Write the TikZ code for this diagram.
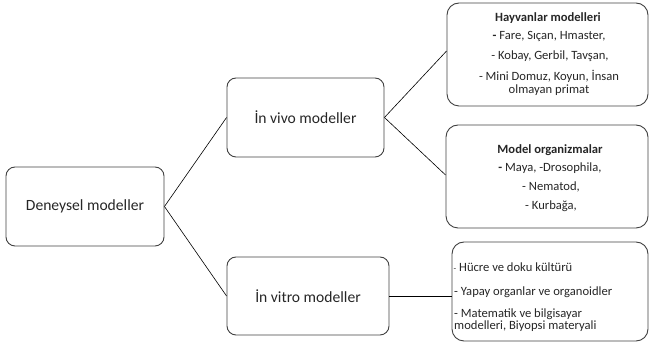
\documentclass[tikz,border=0pt]{standalone}
\usepackage{fontspec}
\setmainfont{Carlito}
\definecolor{txt}{HTML}{262626}
\definecolor{edge}{HTML}{404040}
\begin{document}
\begin{tikzpicture}[x=1pt,y=-1pt,
  box/.style={draw=edge,line width=0.9pt,rounded corners=#1,inner sep=0pt},
  box/.default=9pt,
  big/.style={font=\fontsize{15.6}{18}\selectfont,text=txt},
  ln/.style={font=\fontsize{12.6}{14}\selectfont,text=txt,inner sep=0pt,anchor=base},
  lnl/.style={ln,anchor=base west},
  link/.style={draw=black,line width=0.6pt}]
\useasboundingbox (0,0) rectangle (649,352);
% boxes
\node[box,minimum width=158pt,minimum height=79pt,big] (den) at (85,206.5) {Deneysel modeller};
\node[box,minimum width=157pt,minimum height=79pt,big] (vivo) at (305.5,117.5) {İn vivo modeller};
\node[box,minimum width=162pt,minimum height=78pt,big] (vitro) at (308,296) {İn vitro modeller};
\node[box=12pt,minimum width=201pt,minimum height=103pt] (hay) at (547.5,54.5) {};
\node[box=12pt,minimum width=202pt,minimum height=103pt] (mod) at (547,176.5) {};
\node[box=12pt,minimum width=196pt,minimum height=99pt] (lab) at (550,291.5) {};
% texts: animal models
\node[ln] (h1) at (548,21.5) {\textbf{Hayvanlar modelleri}};
\node[ln] (h2) at (549,40) {\textbf{-} Fare, Sıçan, Hmaster,};
\node[ln] (h3) at (550,59.5) {- Kobay, Gerbil, Tavşan,};
\node[ln] (h4) at (549,81) {- Mini Domuz, Koyun, İnsan};
\node[ln] (h5) at (549,93.5) {olmayan primat};
% texts: model organisms
\node[ln] (m1) at (550,154) {\textbf{Model organizmalar}};
\node[ln] (m2) at (550,172) {\textbf{-} Maya, -Drosophila,};
\node[ln] (m3) at (551,191) {- Nematod,};
\node[ln] (m4) at (551,210) {- Kurbağa,};
% texts: in vitro
\node[lnl] (l1) at (453.5,271.5) {{\fontsize{8.5}{10}\selectfont -} Hücre ve doku kültürü};
\node[lnl] (l2) at (454,296) {- Yapay organlar ve organoidler};
\node[lnl] (l3) at (454,317.5) {- Matematik ve bilgisayar};
\node[lnl] (l4) at (454,329.5) {modelleri, Biyopsi materyali};
% connectors
\draw[link] (den.east) -- (vivo.west);
\draw[link] (den.east) -- (vitro.west);
\draw[link] (vivo.east) -- ([yshift=3.5pt]hay.west);
\draw[link] (vivo.east) -- ([yshift=1.5pt]mod.west);
\draw[link] (vitro.east) -- (vitro.east -| lab.west);
\end{tikzpicture}
\end{document}
